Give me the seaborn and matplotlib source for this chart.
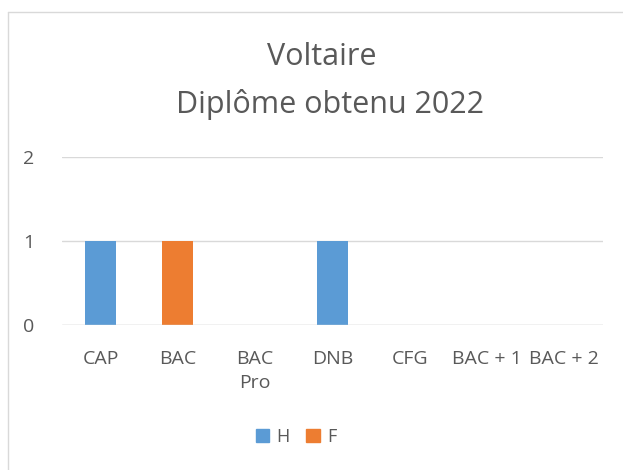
import pandas as pd
import matplotlib.pyplot as plt
import seaborn as sns
from matplotlib.lines import Line2D
from matplotlib.patches import Patch

# data
categories = ['CAP', 'BAC', 'BAC\nPro', 'DNB', 'CFG', 'BAC + 1', 'BAC + 2']
h_values = [1, 0, 0, 1, 0, 0, 0]
f_values = [0, 1, 0, 0, 0, 0, 0]
series = ['H', 'F']
colors = {'H': '#5B9BD5', 'F': '#ED7D31'}

df = pd.DataFrame({
    'cat': categories * 2,
    'val': h_values + f_values,
    'serie': ['H'] * len(categories) + ['F'] * len(categories),
})

sns.set_theme(style='white')
plt.rcParams['font.family'] = ['Open Sans', 'DejaVu Sans']
txt = '#595959'

fig = plt.figure(figsize=(6.23, 4.70), dpi=100)
ax = fig.add_axes([62 / 623, 1 - 325 / 470, (603 - 62) / 623, (325 - 157) / 470])

sns.barplot(data=df, x='cat', y='val', hue='serie', order=categories,
            palette=colors, dodge=False, width=0.4, linewidth=0,
            saturation=1, legend=False, ax=ax)

ax.set_ylim(0, 2)
ax.set_yticks([0, 1, 2])
ax.set_xlim(-0.5, len(categories) - 0.5)
ax.yaxis.grid(True, color='#D9D9D9', linewidth=1)
ax.set_axisbelow(True)
for s in ax.spines.values():
    s.set_visible(False)
ax.axhline(0, color='#D9D9D9', linewidth=1)
ax.set_xlabel('')
ax.set_ylabel('')
ax.tick_params(axis='both', length=0, labelsize=14, labelcolor=txt)
ax.tick_params(axis='y', pad=20)
ax.tick_params(axis='x', pad=18)
for lab in ax.get_xticklabels():
    lab.set_linespacing(1.4)

fig.text(322 / 623, 1 - 57 / 470, 'Voltaire', ha='center', va='center', fontsize=22, color=txt)
fig.text(330 / 623, 1 - 104 / 470, 'Diplôme obtenu 2022', ha='center', va='center', fontsize=22, color=txt)

# chart border
fig.add_artist(Line2D([8 / 623, 8 / 623], [0, 1 - 12 / 470], transform=fig.transFigure, color='#D9D9D9', linewidth=1))
fig.add_artist(Line2D([8 / 623, 1], [1 - 12 / 470, 1 - 12 / 470], transform=fig.transFigure, color='#D9D9D9', linewidth=1))

handles = [Patch(color=colors[s], label=s) for s in series]
fig.legend(handles=handles, loc='center', bbox_to_anchor=(296 / 623, 1 - 437 / 470), ncol=2,
           frameon=False, fontsize=13, labelcolor=txt, handlelength=0.75, handleheight=0.75,
           handletextpad=0.4, columnspacing=0.9)

fig.savefig('out.png', dpi=100)
